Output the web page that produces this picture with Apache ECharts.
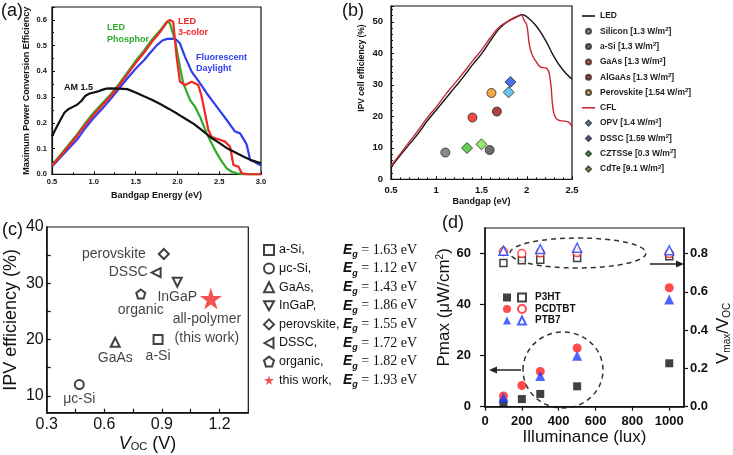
<!DOCTYPE html>
<html lang="en">
<head>
<meta charset="UTF-8" />
<title>Indoor PV - four panels</title>
<script src="https://cdn.jsdelivr.net/npm/echarts@6.0.0/dist/echarts.min.js"></script>
<style>
  body { margin: 0; background: #fff; }
  #chart { width: 733px; height: 455px; }
</style>
</head>
<body>
<div id="chart"></div>
<script>
// ---- (a) maximum PCE vs bandgap, [eV, efficiency]
const am15 = [[0.5,0.148],[0.55,0.18],[0.6,0.211],[0.65,0.24],[0.7,0.254],[0.75,0.262],[0.8,0.27],[0.85,0.285],[0.9,0.305],[0.95,0.314],[1.0,0.318],[1.05,0.322],[1.1,0.328],[1.15,0.333],[1.2,0.334],[1.3,0.333],[1.4,0.331],[1.5,0.318],[1.6,0.303],[1.7,0.289],[1.8,0.272],[1.9,0.254],[2.0,0.235],[2.1,0.215],[2.2,0.195],[2.3,0.17],[2.4,0.143],[2.5,0.122],[2.6,0.1],[2.7,0.084],[2.8,0.067],[2.9,0.053],[3.0,0.043]];
const ledPhosphor = [[0.5,0.036],[0.6,0.075],[0.7,0.115],[0.8,0.155],[0.9,0.2],[1.0,0.24],[1.1,0.275],[1.2,0.31],[1.3,0.35],[1.4,0.395],[1.5,0.44],[1.6,0.48],[1.7,0.525],[1.8,0.562],[1.88,0.595],[1.91,0.587],[1.97,0.522],[2.03,0.418],[2.07,0.354],[2.15,0.289],[2.21,0.263],[2.27,0.224],[2.35,0.159],[2.41,0.12],[2.47,0.082],[2.53,0.05],[2.59,0.023],[2.65,0.01],[2.71,0.004],[2.8,0],[3.0,0]];
const led3color = [[0.5,0.033],[0.6,0.07],[0.7,0.11],[0.8,0.15],[0.9,0.193],[1.0,0.232],[1.1,0.268],[1.2,0.303],[1.3,0.343],[1.4,0.388],[1.5,0.432],[1.6,0.472],[1.7,0.517],[1.8,0.556],[1.88,0.592],[1.91,0.6],[1.95,0.592],[1.99,0.457],[2.03,0.36],[2.09,0.347],[2.17,0.36],[2.25,0.347],[2.29,0.302],[2.33,0.237],[2.37,0.172],[2.41,0.145],[2.5,0.135],[2.57,0.127],[2.63,0.107],[2.67,0.036],[2.73,0.03],[2.77,0.004],[2.85,0],[3.0,0]];
const fluorescent = [[0.5,0.03],[0.6,0.065],[0.7,0.1],[0.8,0.135],[0.9,0.18],[1.0,0.22],[1.1,0.255],[1.2,0.292],[1.3,0.332],[1.4,0.372],[1.5,0.41],[1.6,0.443],[1.67,0.47],[1.75,0.5],[1.82,0.52],[1.88,0.526],[1.97,0.527],[2.03,0.509],[2.09,0.457],[2.17,0.399],[2.27,0.354],[2.35,0.315],[2.47,0.263],[2.59,0.211],[2.69,0.166],[2.75,0.159],[2.81,0.127],[2.83,0.114],[2.87,0.056],[2.92,0.049],[3.0,0.034]];

// ---- (b) IPV cell efficiency vs bandgap
const ledLimit = [[0.5,3.8],[0.6,7.5],[0.7,11],[0.8,14.5],[0.9,18.5],[1.0,22],[1.1,25.5],[1.2,29],[1.3,32.5],[1.4,36.3],[1.5,39.8],[1.6,44],[1.7,47.9],[1.8,50.3],[1.9,51.8],[1.95,52.2],[2.0,51.6],[2.1,48.8],[2.2,44.5],[2.3,39],[2.4,34.7],[2.5,31.8]];
const cflLimit = [[0.5,4.3],[0.6,8],[0.7,11.8],[0.8,15.5],[0.9,19.5],[1.0,23],[1.1,26.8],[1.2,30.3],[1.3,33.8],[1.4,37.5],[1.5,41],[1.6,45],[1.7,48.4],[1.8,50.2],[1.9,51.6],[1.94,52.1],[1.97,50.5],[2.0,48.9],[2.03,42.6],[2.06,39.5],[2.1,37.5],[2.15,35.7],[2.22,35.2],[2.26,31.5],[2.29,22.5],[2.32,19.5],[2.37,18.6],[2.45,18.3],[2.5,16.7]];
const bCells = ['Silicon', 'a-Si', 'GaAs', 'AlGaAs', 'Perovskite', 'OPV', 'DSSC', 'CZTSSe', 'CdTe'];
const bPower = ['1.3', '1.3', '1.3', '1.3', '1.54', '1.4', '1.59', '0.3', '9.1'];
const bGap = [1.10, 1.59, 1.40, 1.67, 1.61, 1.80, 1.82, 1.34, 1.50];
const bEff = [8.5, 9.3, 19.6, 21.5, 27.4, 27.6, 30.9, 9.9, 11.1];
const bColors = ['#6e6e6e', '#484848', '#ee1c1c', '#9a1212', '#f5901e', '#45b5ee', '#1f4fe0', '#3ec22a', '#7ee04a'];
const bSymbols = ['circle', 'circle', 'circle', 'circle', 'circle', 'diamond', 'diamond', 'diamond', 'diamond'];

// ---- (c) IPV efficiency vs Voc
const cNames = ['a-Si', 'μc-Si', 'GaAs', 'InGaP', 'perovskite', 'DSSC', 'organic', 'this work'];
const cLabels = ['a-Si', 'μc-Si', 'GaAs', 'InGaP', 'perovskite', 'DSSC', 'organic', 'all-polymer\n(this work)'];
const cEg = [1.63, 1.12, 1.43, 1.86, 1.55, 1.72, 1.82, 1.93];
const cVoc = [0.88, 0.47, 0.657, 0.98, 0.91, 0.87, 0.79, 1.155];
const cIpv = [20.0, 12.0, 19.5, 30.2, 35.2, 31.9, 28.1, 27.3];

// ---- (d) Pmax and Vmax/Voc vs illuminance
const lux = [100, 200, 300, 500, 1000];
const ptb7Lux = [100, 300, 500, 1000];
const p3htP = [1.5, 3, 5, 8, 17];
const pcdtbtP = [4.2, 8.3, 13.8, 23, 46.6];
const ptb7P = [3.5, 12, 20, 42];
const p3htV = [0.75, 0.765, 0.767, 0.776, 0.786];
const pcdtbtV = [0.81, 0.80, 0.803, 0.805, 0.80];
const ptb7V = [0.815, 0.823, 0.83, 0.817];

const SANS = 'Liberation Sans';
const SERIF = 'Liberation Serif';
const INK = '#111';

const chart = echarts.init(document.getElementById('chart'));

const pairs = (xs, ys) => xs.map((x, i) => [x, ys[i]]);
const line = (w) => ({ onZero: false, lineStyle: { color: INK, width: w } });

// symbols that echarts has no name for
const DIAMOND = 'path://M5,0 L10,5 L5,10 L0,5 Z';
const DASH = 'path://M0,0 L16,0 L16,2 L0,2 Z';
const cSymbolList = [
  'rect',
  'circle',
  'triangle',
  'path://M0,0 L10,0 L5,9 Z',
  'diamond',
  'path://M0,5 L9,0 L9,10 Z',
  'path://M5,0 L10,3.8 L8.1,10 L1.9,10 L0,3.8 Z',
  'path://M50,0 L61,35 L98,35 L68,57 L79,91 L50,70 L21,91 L32,57 L2,35 L39,35 Z'
];
const cLabelPos = [
  { position: 'bottom', distance: 3 },
  { position: 'bottom', distance: 1 },
  { position: 'bottom', distance: 2 },
  { position: 'bottom', distance: 1 },
  { position: 'left', distance: 12 },
  { position: 'left', distance: 3 },
  { position: 'bottom', distance: 3 },
  { position: 'bottom', distance: 0, offset: [-4, 0], lineHeight: 19 }
];

const series = [];

// (a)
[
  ['Fluorescent', fluorescent, '#2f3ff0'],
  ['LED Phosphor', ledPhosphor, '#2aac2a'],
  ['LED 3-color', led3color, '#f42525'],
  ['AM 1.5', am15, '#111']
].forEach(([name, data, color]) => {
  series.push({
    name, type: 'line', xAxisIndex: 0, yAxisIndex: 0, data,
    showSymbol: false, symbol: 'none', lineStyle: { color, width: 2.2 }, itemStyle: { color }
  });
});

// (b)
series.push({
  name: 'LED', type: 'line', xAxisIndex: 1, yAxisIndex: 1, data: ledLimit,
  symbol: 'none', smooth: true, lineStyle: { color: '#151515', width: 1.4 }, itemStyle: { color: '#151515' }
});
series.push({
  name: 'CFL', type: 'line', xAxisIndex: 1, yAxisIndex: 1, data: cflLimit,
  symbol: 'none', smooth: true, lineStyle: { color: '#c8283c', width: 1.4 }, itemStyle: { color: '#c8283c' }
});
const bNames = bCells.map((c, i) => `${c} [${bPower[i]} W/m2]`);
bCells.forEach((c, i) => {
  const dia = bSymbols[i] === 'diamond';
  series.push({
    name: bNames[i], type: 'scatter', xAxisIndex: 1, yAxisIndex: 1,
    data: [[bGap[i], bEff[i]]], symbol: dia ? DIAMOND : 'circle', symbolSize: dia ? 11 : 9,
    symbolKeepAspect: true,
    itemStyle: { color: bColors[i], borderColor: '#2a2a2a', borderWidth: 1 }
  });
});

// (c)
cNames.forEach((n, i) => {
  const star = i === cNames.length - 1;
  const lp = cLabelPos[i];
  series.push({
    name: n, type: 'scatter', xAxisIndex: 2, yAxisIndex: 2,
    data: [[cVoc[i], cIpv[i]]],
    symbol: cSymbolList[i],
    symbolSize: star ? 22 : (i === 4 ? 10 : 9),
    itemStyle: star ? { color: '#f02828' } : { color: '#fff', borderColor: INK, borderWidth: 2 },
    label: {
      show: true, formatter: () => cLabels[i], color: INK, fontFamily: SANS, fontSize: 14,
      position: lp.position, distance: lp.distance, offset: lp.offset || [0, 0],
      lineHeight: lp.lineHeight || 16
    }
  });
});

// (d)
const dSets = [
  ['P3HT', 'P3HT ', 'rect', 8, '#111', lux, p3htP, p3htV],
  ['PCDTBT', 'PCDTBT ', 'circle', 9, '#ff1e1e', lux, pcdtbtP, pcdtbtV],
  ['PTB7', 'PTB7 ', 'triangle', 10, '#1e3cff', ptb7Lux, ptb7P, ptb7V]
];
dSets.forEach(([n, , sym, size, color, xs, ys]) => {
  series.push({
    name: n, type: 'scatter', xAxisIndex: 3, yAxisIndex: 3, data: pairs(xs, ys),
    symbol: sym, symbolSize: size, itemStyle: { color }
  });
});
dSets.forEach(([, n, sym, size, color, xs, , vs]) => {
  series.push({
    name: n, type: 'scatter', xAxisIndex: 3, yAxisIndex: 4, data: pairs(xs, vs),
    symbol: sym, symbolSize: size - 1, itemStyle: { color: '#fff', borderColor: color, borderWidth: 1.5 }
  });
});

const gridBox = { show: true, borderColor: INK, borderWidth: 1.2, backgroundColor: 'transparent' };

const bLegendData = ['LED'].concat(bNames.slice(0, 5), ['CFL'], bNames.slice(5)).map(n => {
  if (n === 'LED' || n === 'CFL') return { name: n, icon: DASH };
  const i = bNames.indexOf(n);
  return { name: n, icon: bSymbols[i] === 'diamond' ? DIAMOND : 'circle' };
});

const option = {
  animation: false,
  backgroundColor: '#fff',
  textStyle: { fontFamily: SANS },
  grid: [
    Object.assign({ left: 52, top: 7, width: 209, height: 167.3 }, gridBox),
    Object.assign({ left: 391, top: 6, width: 181, height: 173.3 }, gridBox),
    Object.assign({ left: 46.7, top: 227, width: 201.6, height: 185.7 }, gridBox),
    Object.assign({ left: 485, top: 228, width: 202, height: 178.7 }, gridBox)
  ],
  xAxis: [
    {
      gridIndex: 0, type: 'value', min: 0.5, max: 3, interval: 0.5,
      axisLine: line(1.2), splitLine: { show: false },
      axisTick: { inside: true, length: 3, lineStyle: { color: INK } },
      minorTick: { show: true, splitNumber: 2, length: 2, lineStyle: { color: INK } },
      axisLabel: { formatter: v => v.toFixed(1), fontSize: 7.5, fontWeight: 'bold', color: INK, margin: 4 },
      name: 'Bandgap Energy (eV)', nameLocation: 'middle', nameGap: 17,
      nameTextStyle: { fontSize: 9, fontWeight: 'bold', color: INK }
    },
    {
      gridIndex: 1, type: 'value', min: 0.5, max: 2.5, interval: 0.5,
      axisLine: line(1.2), splitLine: { show: false },
      axisTick: { inside: true, length: 3, lineStyle: { color: INK } },
      minorTick: { show: true, splitNumber: 5, length: 2, lineStyle: { color: INK } },
      axisLabel: { fontSize: 9.5, fontWeight: 'bold', color: INK, margin: 6 },
      name: 'Bandgap (eV)', nameLocation: 'middle', nameGap: 18,
      nameTextStyle: { fontSize: 9, fontWeight: 'bold', color: INK }
    },
    {
      gridIndex: 2, type: 'value', min: 0.3, max: 1.35,
      axisLine: line(1.5), splitLine: { show: false },
      axisTick: { inside: true, length: 4, lineStyle: { color: INK, width: 1.2 }, customValues: [0.45, 0.6, 0.75, 0.9, 1.05, 1.2] },
      axisLabel: { formatter: v => v.toFixed(1), fontSize: 16, color: INK, margin: 4, customValues: [0.3, 0.6, 0.9, 1.2] },
      name: '{i|V}{s|OC}{t| (V)}', nameLocation: 'middle', nameGap: 22,
      nameTextStyle: {
        color: INK,
        rich: {
          i: { fontSize: 18, fontStyle: 'italic', color: INK, fontFamily: SANS },
          s: { fontSize: 11, color: INK, fontFamily: SANS, verticalAlign: 'bottom', lineHeight: 12 },
          t: { fontSize: 18, color: INK, fontFamily: SANS }
        }
      }
    },
    {
      gridIndex: 3, type: 'value', min: 0, max: 1080, interval: 200,
      axisLine: line(1.5), splitLine: { show: false },
      axisTick: { inside: false, length: 4, lineStyle: { color: INK, width: 1.2 } },
      axisLabel: { formatter: v => String(v), fontSize: 13, fontWeight: 'bold', color: INK, margin: 8, showMaxLabel: false },
      name: 'Illuminance (lux)', nameLocation: 'middle', nameGap: 21,
      nameTextStyle: { fontSize: 17, color: INK }
    }
  ],
  yAxis: [
    {
      gridIndex: 0, type: 'value', min: 0, max: 0.65, interval: 0.1,
      axisLine: line(1.2), splitLine: { show: false },
      axisTick: { inside: true, length: 3, lineStyle: { color: INK } },
      minorTick: { show: true, splitNumber: 2, length: 2, lineStyle: { color: INK } },
      axisLabel: { formatter: v => v.toFixed(1), fontSize: 7.5, fontWeight: 'bold', color: INK, margin: 5, showMaxLabel: false },
      name: 'Maximum Power Conversion Efficiency', nameLocation: 'middle', nameGap: 21,
      nameTextStyle: { fontSize: 9, fontWeight: 'bold', color: INK }
    },
    {
      gridIndex: 1, type: 'value', min: 0, max: 55, interval: 10,
      axisLine: line(1.2), splitLine: { show: false },
      axisTick: { inside: true, length: 3, lineStyle: { color: INK } },
      minorTick: { show: true, splitNumber: 5, length: 2, lineStyle: { color: INK } },
      axisLabel: { fontSize: 9.5, fontWeight: 'bold', color: INK, margin: 8, showMaxLabel: false }
    },
    {
      gridIndex: 2, type: 'value', min: 7, max: 40,
      axisLine: line(1.5), splitLine: { show: false },
      axisTick: { inside: true, length: 4, lineStyle: { color: INK, width: 1.2 }, customValues: [10, 15, 20, 25, 30, 35] },
      axisLabel: { fontSize: 16, color: INK, margin: 3, customValues: [10, 20, 30, 40] },
      name: 'IPV efficiency (%)', nameLocation: 'middle', nameGap: 27,
      nameTextStyle: { fontSize: 18, color: INK }
    },
    {
      gridIndex: 3, type: 'value', min: 0, max: 70, interval: 20,
      axisLine: line(1.5), splitLine: { show: false },
      axisTick: { inside: false, length: 5, lineStyle: { color: INK, width: 1.2 } },
      axisLabel: { fontSize: 13, fontWeight: 'bold', color: INK, margin: 14, showMaxLabel: false },
      name: 'Pmax (μW/cm{p|2})', nameLocation: 'middle', nameGap: 22,
      nameTextStyle: {
        fontSize: 17, color: INK, padding: [0, 0, 0, 20],
        rich: { p: { fontSize: 10, verticalAlign: 'top', lineHeight: 10, color: INK, fontFamily: SANS } }
      }
    },
    {
      gridIndex: 3, type: 'value', position: 'right', min: 0, max: 0.8 * 70 / 60, interval: 0.2,
      axisLine: line(1.5), splitLine: { show: false },
      axisTick: { inside: false, length: 4, lineStyle: { color: INK, width: 1.2 } },
      axisLabel: { formatter: v => v.toFixed(1), fontSize: 13, fontWeight: 'bold', color: INK, margin: 6, showMaxLabel: false },
      name: '{v|V}{s|max}{v|/V}{s|OC}', nameLocation: 'middle', nameGap: 31,
      nameTextStyle: {
        color: INK, padding: [0, 32, 0, 0],
        rich: {
          v: { fontSize: 17, color: INK, fontFamily: SANS },
          s: { fontSize: 10, color: INK, fontFamily: SANS, verticalAlign: 'bottom', lineHeight: 10 }
        }
      }
    }
  ],
  legend: [
    {
      data: bLegendData,
      orient: 'vertical', left: 582, top: 11, padding: 0, itemWidth: 13, itemHeight: 5, itemGap: 5.3,
      selectedMode: false,
      formatter: n => n.replace('m2]', 'm{s|2}]'),
      textStyle: {
        fontSize: 8.5, fontWeight: 'bold', color: '#222', lineHeight: 10,
        rich: { s: { fontSize: 6, fontWeight: 'bold', verticalAlign: 'top', lineHeight: 7, color: '#222' } }
      }
    },
    {
      data: cNames, orient: 'vertical', left: 263, top: 241, padding: 0, itemWidth: 10, itemHeight: 10, itemGap: 0.6,
      selectedMode: false,
      formatter: n => `{n|${n},}{e|E}{g|g}{v| = ${cEg[cNames.indexOf(n)].toFixed(2)} eV}`,
      textStyle: {
        color: INK, lineHeight: 18,
        rich: {
          n: { fontSize: 12.5, width: 64, color: INK, fontFamily: SANS, lineHeight: 18 },
          e: { fontSize: 14, fontStyle: 'italic', fontWeight: 'bold', color: INK, fontFamily: SANS, lineHeight: 18 },
          g: { fontSize: 9, fontStyle: 'italic', fontWeight: 'bold', color: INK, fontFamily: SANS, verticalAlign: 'bottom', lineHeight: 10 },
          v: { fontSize: 14, color: INK, fontFamily: SERIF, lineHeight: 18 }
        }
      }
    },
    {
      data: dSets.map(s => s[0]), orient: 'vertical', left: 503, top: 292, padding: 0,
      itemWidth: 8, itemHeight: 8, itemGap: 0.5, selectedMode: false,
      formatter: () => ' ', textStyle: { fontSize: 10, lineHeight: 11 }
    },
    {
      data: dSets.map(s => s[1]), orient: 'vertical', left: 517, top: 292, padding: 0,
      itemWidth: 8, itemHeight: 8, itemGap: 0.5, selectedMode: false,
      formatter: n => n.trim(),
      textStyle: { fontSize: 10, fontWeight: 'bold', color: INK, lineHeight: 11, padding: [0, 0, 0, 4] }
    }
  ],
  graphic: [
    // panel letters
    { type: 'text', style: { x: 1, y: 11, text: '(a)', font: '18px "Liberation Sans"', fill: INK, verticalAlign: 'middle' } },
    { type: 'text', style: { x: 342, y: 11, text: '(b)', font: '18px "Liberation Sans"', fill: INK, verticalAlign: 'middle' } },
    { type: 'text', style: { x: 2, y: 230, text: '(c)', font: '18px "Liberation Sans"', fill: INK, verticalAlign: 'middle' } },
    { type: 'text', style: { x: 442, y: 223, text: '(d)', font: '18px "Liberation Sans"', fill: INK, verticalAlign: 'middle' } },
    // (a) curve labels
    { type: 'text', style: { x: 107, y: 22, text: 'LED\nPhosphor', font: 'bold 9px "Liberation Sans"', fill: '#2aac2a', lineHeight: 12 } },
    { type: 'text', style: { x: 178, y: 16, text: 'LED\n3-color', font: 'bold 9px "Liberation Sans"', fill: '#f42525', lineHeight: 11 } },
    { type: 'text', style: { x: 196, y: 52, text: 'Fluorescent\nDaylight', font: 'bold 9px "Liberation Sans"', fill: '#2f3ff0', lineHeight: 11 } },
    { type: 'text', style: { x: 64, y: 83, text: 'AM 1.5', font: 'bold 9px "Liberation Sans"', fill: INK } },
    // (b) y-axis title
    {
      type: 'text', x: 362, y: 68, rotation: Math.PI / 2,
      style: { x: 0, y: 0, text: 'IPV cell efficiency (%)', font: 'bold 8.5px "Liberation Sans"', fill: INK, align: 'center', verticalAlign: 'middle' }
    },
    // (d) dashed groups and arrows
    { type: 'ellipse', shape: { cx: 578, cy: 253, rx: 68, ry: 15 }, style: { fill: 'none', stroke: '#333', lineWidth: 1.5, lineDash: [5, 4] } },
    { type: 'ellipse', shape: { cx: 563, cy: 370, rx: 40, ry: 38 }, style: { fill: 'none', stroke: '#333', lineWidth: 1.5, lineDash: [5, 4] } },
    { type: 'line', shape: { x1: 650, y1: 264, x2: 677, y2: 264 }, style: { stroke: '#222', lineWidth: 1.5 } },
    { type: 'polygon', shape: { points: [[684, 264], [676, 260.5], [676, 267.5]] }, style: { fill: '#222' } },
    { type: 'line', shape: { x1: 521, y1: 370, x2: 497, y2: 370 }, style: { stroke: '#222', lineWidth: 1.5 } },
    { type: 'polygon', shape: { points: [[489, 370], [497, 366.5], [497, 373.5]] }, style: { fill: '#222' } }
  ],
  series
};

chart.setOption(option);
window.addEventListener('resize', () => chart.resize());
</script>
</body>
</html>
